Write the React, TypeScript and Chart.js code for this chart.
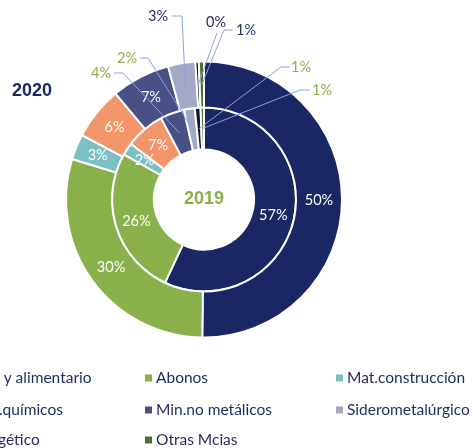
import React, { useEffect, useRef } from "react";
import { Chart, registerables } from "chart.js";

Chart.register(...registerables);

const categories = [
  "Agro y alimentario",
  "Abonos",
  "Mat.construcción",
  "Prod.químicos",
  "Min.no metálicos",
  "Siderometalúrgico",
  "Energético",
  "Otras Mcias",
];
const values2020 = [50.3, 29.6, 3.0, 6.2, 6.9, 3.2, 0.4, 0.6];
const values2019 = [56.8, 26.1, 2.2, 6.9, 4.2, 1.9, 1.0, 0.6];
const colors = [
  "#1B2764",
  "#8AB04B",
  "#7BC1C3",
  "#F3956A",
  "#4A4F86",
  "#A2A8C5",
  "#0E1534",
  "#4F6E2B",
];
const ringTitles = ["2020", "2019"];

// layout of callout labels (dataset index, slice index, label centre, polyline from slice)
const callouts = [
  { ds: 0, i: 5, text: [158, 16], path: [[182, 16], [172, 16]] },
  { ds: 0, i: 6, text: [216, 22], path: [[217, 33]] },
  { ds: 0, i: 7, text: [246, 30], path: [[224, 30], [233, 30]] },
  { ds: 1, i: 4, text: [101, 73], path: [[123, 73], [114, 73]] },
  { ds: 1, i: 5, text: [127, 58], path: [[148, 58], [140, 58]] },
  { ds: 1, i: 6, text: [301, 67], path: [[281, 67], [290, 67]] },
  { ds: 1, i: 7, text: [322, 90], path: [[300, 90], [310, 90]] },
];

const NAVY_TEXT = "#253070";
const GREEN_TEXT = "#8AB04B";
const LEGEND_TEXT = "#1F2A5E";
const LINE_COLOR = "#8E9FE6";

const labelPlugin = {
  id: "customLabels",
  afterDatasetsDraw(chart: any) {
    const ctx = chart.ctx;
    ctx.save();
    ctx.textAlign = "center";
    ctx.textBaseline = "middle";
    ctx.font = "14.5px Lato";
    const isCallout = (ds: number, i: number) =>
      callouts.some((c) => c.ds === ds && c.i === i);
    chart.data.datasets.forEach((dataset: any, ds: number) => {
      const meta = chart.getDatasetMeta(ds);
      meta.data.forEach((arc: any, i: number) => {
        const p = arc.getProps(
          ["x", "y", "startAngle", "endAngle", "innerRadius", "outerRadius"],
          true
        );
        const mid = (p.startAngle + p.endAngle) / 2;
        const r = (p.innerRadius + p.outerRadius) / 2;
        const px = p.x + Math.cos(mid) * r;
        const py = p.y + Math.sin(mid) * r;
        const txt = Math.round(dataset.data[i]) + "%";
        if (!isCallout(ds, i)) {
          ctx.fillStyle = "#FFFFFF";
          ctx.fillText(txt, px, py);
        }
      });
    });
    // callouts
    callouts.forEach((c) => {
      const meta = chart.getDatasetMeta(c.ds);
      const arc = meta.data[c.i];
      const p = arc.getProps(
        ["x", "y", "startAngle", "endAngle", "innerRadius", "outerRadius"],
        true
      );
      const mid = (p.startAngle + p.endAngle) / 2;
      const r = (p.innerRadius + p.outerRadius) / 2;
      const px = p.x + Math.cos(mid) * r;
      const py = p.y + Math.sin(mid) * r;
      ctx.strokeStyle = LINE_COLOR;
      ctx.lineWidth = 1;
      ctx.beginPath();
      ctx.moveTo(px, py);
      c.path.forEach((pt) => ctx.lineTo(pt[0], pt[1]));
      ctx.stroke();
      const val = chart.data.datasets[c.ds].data[c.i];
      ctx.fillStyle = c.ds === 0 ? NAVY_TEXT : GREEN_TEXT;
      ctx.fillText(Math.round(val) + "%", c.text[0], c.text[1]);
    });
    // titles
    ctx.font = "bold 18px 'Liberation Sans', Arial";
    ctx.fillStyle = "#1B2764";
    ctx.textAlign = "left";
    ctx.fillText(ringTitles[0], 12, 91);
    ctx.fillStyle = GREEN_TEXT;
    ctx.textAlign = "center";
    const a0 = chart.getDatasetMeta(1).data[0];
    ctx.fillText(ringTitles[1], a0.x, a0.y);
    // legend
    const colX = [-44, 145, 336];
    const rowY = [378, 410, 440];
    ctx.font = "15.5px Lato";
    ctx.textAlign = "left";
    ctx.textBaseline = "middle";
    categories.forEach((name, k) => {
      const row = Math.floor(k / 3);
      const col = k % 3;
      const x = colX[col];
      const y = rowY[row];
      ctx.fillStyle = colors[k];
      ctx.fillRect(x, y - 3.5, 7, 7);
      ctx.fillStyle = LEGEND_TEXT;
      ctx.fillText(name, x + 11, y);
    });
    ctx.restore();
  },
};

export default function App() {
  const ref = useRef<HTMLCanvasElement | null>(null);
  useEffect(() => {
    document.body.style.margin = "0";
    document.body.style.overflow = "hidden";
    const chart = new Chart(ref.current as HTMLCanvasElement, {
      type: "doughnut",
      data: {
        labels: categories,
        datasets: [
          {
            label: ringTitles[0],
            data: values2020,
            backgroundColor: colors,
            borderColor: "#FFFFFF",
            borderWidth: 2,
            weight: 46,
          },
          {
            label: ringTitles[1],
            data: values2019,
            backgroundColor: colors,
            borderColor: "#FFFFFF",
            borderWidth: 2,
            weight: 42,
          },
        ],
      },
      options: {
        responsive: false,
        animation: false,
        cutout: 50,
        layout: { padding: { left: 65, right: 130, top: 60, bottom: 109 } },
        plugins: {
          legend: { display: false },
          tooltip: { enabled: false },
        },
      } as any,
      plugins: [labelPlugin],
    });
    return () => chart.destroy();
  }, []);
  return (
    <div style={{ width: 473, height: 448, position: "relative", overflow: "hidden" }}>
      <canvas ref={ref} width={473} height={448} style={{ display: "block" }} />
    </div>
  );
}
